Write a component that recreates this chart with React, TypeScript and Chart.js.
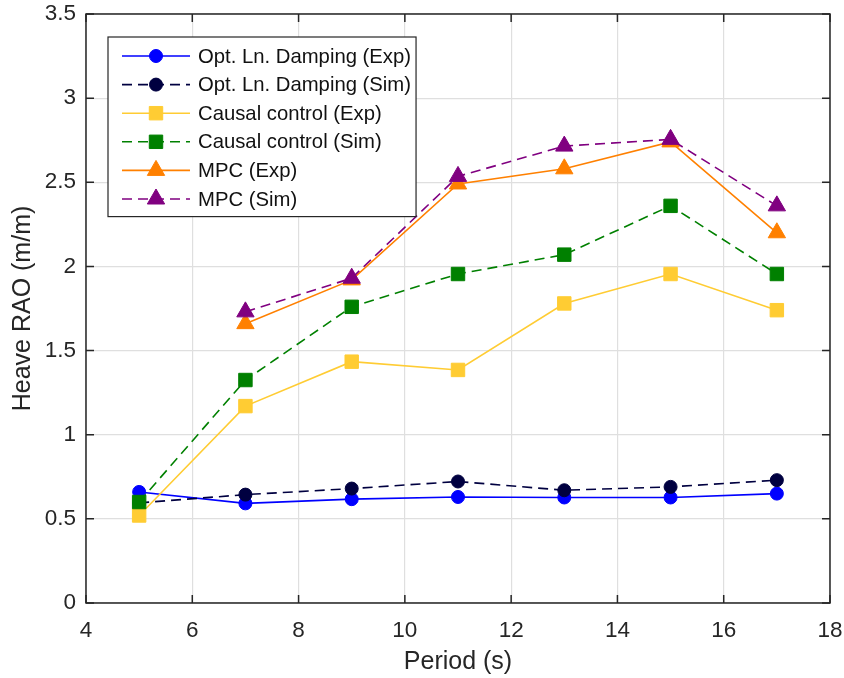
import React, { useEffect, useRef } from 'react';
import { Chart, registerables } from 'chart.js';
import { drawPoint } from 'chart.js/helpers';

Chart.register(...registerables);

const periods = [5, 7, 9, 11, 13, 15, 17];
const optLnDampingExp = [0.66, 0.592, 0.617, 0.63, 0.627, 0.627, 0.65];
const optLnDampingSim = [0.595, 0.644, 0.68, 0.722, 0.67, 0.69, 0.73];
const causalExp = [0.52, 1.17, 1.434, 1.385, 1.78, 1.955, 1.74];
const causalSim = [0.6, 1.325, 1.76, 1.955, 2.07, 2.36, 1.955];
const mpcExp = [null, 1.66, 1.92, 2.49, 2.58, 2.74, 2.2];
const mpcSim = [null, 1.73, 1.93, 2.535, 2.715, 2.755, 2.36];

const seriesLabels = [
  'Opt. Ln. Damping (Exp)',
  'Opt. Ln. Damping (Sim)',
  'Causal control (Exp)',
  'Causal control (Sim)',
  'MPC (Exp)',
  'MPC (Sim)',
];
const seriesValues = [optLnDampingExp, optLnDampingSim, causalExp, causalSim, mpcExp, mpcSim];
const seriesColors = ['#0000FF', '#000040', '#FFCC33', '#008000', '#FF8000', '#800080'];
const seriesDashed = [false, true, false, true, false, true];
const seriesMarkers = ['circle', 'circle', 'rect', 'rect', 'triangle', 'triangle'];

const xTitle = 'Period (s)';
const yTitle = 'Heave RAO (m/m)';

const FONT = '"Liberation Sans", Arial, Helvetica, sans-serif';
const AXIS_COLOR = '#262626';

const markerRadius: Record<string, number> = { circle: 6.5, rect: 9.5, triangle: 10 };

const framePlugin = {
  id: 'frame',
  beforeDatasetsDraw(chart: any) {
    const { ctx, chartArea: a, scales } = chart;
    const tick = 8;
    ctx.save();
    ctx.strokeStyle = AXIS_COLOR;
    ctx.lineWidth = 1.5;
    ctx.setLineDash([]);
    ctx.beginPath();
    ctx.rect(a.left, a.top, a.right - a.left, a.bottom - a.top);
    ctx.stroke();
    ctx.beginPath();
    scales.x.ticks.forEach((t: any) => {
      const px = scales.x.getPixelForValue(t.value);
      ctx.moveTo(px, a.bottom);
      ctx.lineTo(px, a.bottom - tick);
      ctx.moveTo(px, a.top);
      ctx.lineTo(px, a.top + tick);
    });
    scales.y.ticks.forEach((t: any) => {
      const py = scales.y.getPixelForValue(t.value);
      ctx.moveTo(a.left, py);
      ctx.lineTo(a.left + tick, py);
      ctx.moveTo(a.right, py);
      ctx.lineTo(a.right - tick, py);
    });
    ctx.stroke();
    ctx.restore();
  },
};

const legendPlugin = {
  id: 'boxLegend',
  afterDraw(chart: any) {
    const { ctx, chartArea: a } = chart;
    const ds = chart.data.datasets;
    const x0 = a.left + 22;
    const y0 = a.top + 23;
    const rowH = 28.6;
    ctx.save();
    ctx.font = `20.3px ${FONT}`;
    const maxW = Math.max(...ds.map((d: any) => ctx.measureText(d.label).width));
    const w = 90 + maxW + 5;
    const h = rowH * ds.length + 8;
    ctx.fillStyle = '#FFFFFF';
    ctx.fillRect(x0, y0, w, h);
    ctx.strokeStyle = AXIS_COLOR;
    ctx.lineWidth = 1.2;
    ctx.strokeRect(x0, y0, w, h);
    ds.forEach((d: any, i: number) => {
      const y = y0 + 19 + i * rowH;
      ctx.strokeStyle = d.borderColor;
      ctx.lineWidth = d.borderWidth;
      ctx.setLineDash(d.borderDash || []);
      ctx.beginPath();
      ctx.moveTo(x0 + 14, y);
      ctx.lineTo(x0 + 82, y);
      ctx.stroke();
      ctx.setLineDash([]);
      ctx.fillStyle = d.pointBackgroundColor;
      ctx.strokeStyle = d.pointBorderColor;
      ctx.lineWidth = d.pointBorderWidth;
      drawPoint(ctx, { pointStyle: d.pointStyle, radius: d.pointRadius, borderWidth: d.pointBorderWidth, rotation: 0 }, x0 + 48, y);
      ctx.fillStyle = '#111111';
      ctx.textBaseline = 'middle';
      ctx.textAlign = 'left';
      ctx.fillText(d.label, x0 + 90, y + 1);
    });
    ctx.restore();
  },
};

export default function App() {
  const canvasRef = useRef<HTMLCanvasElement | null>(null);

  useEffect(() => {
    document.body.style.margin = '0';
    const canvas = canvasRef.current;
    if (!canvas) return;
    const datasets = seriesLabels.map((label, i) => ({
      label,
      data: periods.map((p, j) => ({ x: p, y: seriesValues[i][j] })),
      borderColor: seriesColors[i],
      backgroundColor: seriesColors[i],
      pointBackgroundColor: seriesColors[i],
      pointBorderColor: seriesColors[i],
      pointBorderWidth: 1,
      borderWidth: 1.6,
      borderDash: seriesDashed[i] ? [10, 6] : [],
      pointStyle: seriesMarkers[i],
      pointRadius: markerRadius[seriesMarkers[i]],
      pointHoverRadius: markerRadius[seriesMarkers[i]],
      tension: 0,
      fill: false,
      order: seriesLabels.length - i,
    }));
    const chart = new Chart(canvas, {
      type: 'line',
      data: { datasets },
      options: {
        animation: false,
        responsive: false,
        maintainAspectRatio: false,
        layout: { padding: { top: 14, right: 14, left: 0, bottom: 0 } },
        plugins: { legend: { display: false }, tooltip: { enabled: false } },
        scales: {
          x: {
            type: 'linear',
            min: 4,
            max: 18,
            ticks: { stepSize: 2, color: AXIS_COLOR, font: { family: FONT, size: 22.5 }, padding: 14, maxRotation: 0 },
            grid: { color: '#DFDFDF', lineWidth: 1.2, drawTicks: false },
            border: { display: false },
            title: { display: true, text: xTitle, color: AXIS_COLOR, font: { family: FONT, size: 25 }, padding: { top: 0, bottom: 1 } },
            afterFit: (s: any) => { s.height = 75; s.paddingLeft = 0; s.paddingRight = 0; },
          },
          y: {
            type: 'linear',
            min: 0,
            max: 3.5,
            ticks: { stepSize: 0.5, color: AXIS_COLOR, font: { family: FONT, size: 22.5 }, padding: 10, callback: (v: any) => String(v) },
            grid: { color: '#DFDFDF', lineWidth: 1.2, drawTicks: false },
            border: { display: false },
            title: { display: true, text: yTitle, color: AXIS_COLOR, font: { family: FONT, size: 25 }, padding: { top: 8, bottom: 0 } },
            afterFit: (s: any) => { s.width = 86; s.paddingTop = 0; s.paddingBottom = 0; },
          },
        },
      },
      plugins: [framePlugin, legendPlugin],
    });
    return () => chart.destroy();
  }, []);

  return (
    <div style={{ width: 844, height: 678 }}>
      <canvas ref={canvasRef} width={844} height={678} style={{ display: 'block' }} />
    </div>
  );
}
